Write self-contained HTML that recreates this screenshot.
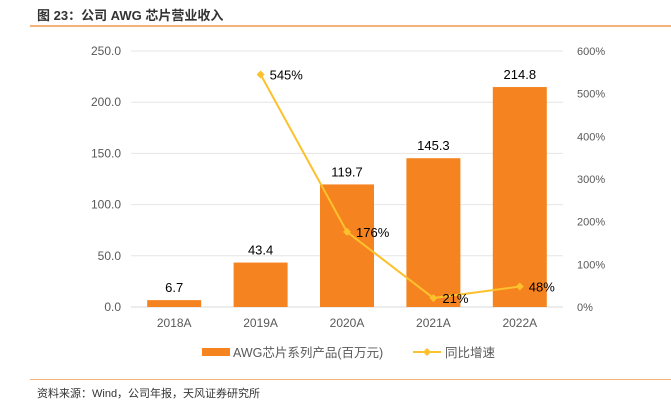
<!DOCTYPE html>
<html><head><meta charset="utf-8"><style>
body{margin:0;width:671px;height:409px;background:#fff;font-family:"Liberation Sans","Noto Sans CJK SC",sans-serif;overflow:hidden;position:relative}
.t{position:absolute;white-space:nowrap}
</style></head><body>
<div class="t" style="left:37px;top:5px;font-size:13px;font-weight:bold;color:#333">图 23：公司 AWG 芯片营业收入</div>
<div style="position:absolute;left:30px;top:25px;width:641px;height:2px;background:#f7b27a"></div>
<svg id="c" width="671" height="409" style="position:absolute;left:0;top:0"></svg>
<div style="position:absolute;left:30px;top:379px;width:641px;height:1px;background:#f7b27a"></div>
<div class="t" style="left:37px;top:385px;font-size:11px;color:#333">资料来源：Wind，公司年报，天风证券研究所</div>
<script>
const categories=["2018A","2019A","2020A","2021A","2022A"];
const revenue=[6.7,43.4,119.7,145.3,214.8];
const growth=[null,545,176,21,48];
const leftTicks=[0,50,100,150,200,250];
const rightTicks=[0,100,200,300,400,500,600];
const NS="http://www.w3.org/2000/svg",svg=document.getElementById('c');
const x0=131,x1=563,yTop=51,yBot=307,bw=54;
const xs=i=>x0+(x1-x0)/categories.length*(i+0.5);
const yl=v=>yBot-(v/250)*(yBot-yTop);
const yr=v=>yBot-(v/600)*(yBot-yTop);
function mk(tag,a,txt){const e=document.createElementNS(NS,tag);for(const k in a)e.setAttribute(k,a[k]);if(txt!=null)e.textContent=txt;svg.appendChild(e);return e;}
leftTicks.forEach(v=>{
 let g=mk('line',{x1:x0,x2:x1,y1:yl(v),y2:yl(v),stroke:v?'#e6e6e6':'#d9d9d9','stroke-width':1});
 
 
 let t=mk('text',{x:121,y:yl(v)+4,'text-anchor':'end','font-size':12,fill:'#595959'},v.toFixed(1));
 
 
});
rightTicks.forEach(v=>{
 let t=mk('text',{x:577,y:yr(v)+4,'font-size':11,fill:'#595959'},v+'%');
 
 
});
categories.forEach((c,i)=>{
 let b=mk('rect',{x:xs(i)-bw/2,y:yl(revenue[i]),width:bw,height:yBot-yl(revenue[i]),fill:'#f5831f'});
 
 
 let l=mk('text',{x:xs(i),y:yl(revenue[i])-8,'text-anchor':'middle','font-size':13,fill:'#000'},revenue[i].toFixed(1));
 
 
 let t=mk('text',{x:xs(i),y:327,'text-anchor':'middle','font-size':12,fill:'#595959'},c);
 
 
});
let pts=[];growth.forEach((g,i)=>{if(g!=null)pts.push([xs(i),yr(g),g]);});
let pl=mk('polyline',{points:pts.map(p=>p[0]+','+p[1]).join(' '),fill:'none',stroke:'#fcc12d','stroke-width':2});


pts.forEach(p=>{
 let d=mk('path',{d:`M${p[0]-4},${p[1]}L${p[0]},${p[1]-4}L${p[0]+4},${p[1]}L${p[0]},${p[1]+4}Z`,fill:'#fcc12d'});
 
 
 let t=mk('text',{x:p[0]+9,y:p[1]+5,'font-size':13,fill:'#000'},p[2]+'%');
 
 
});
let lr=mk('rect',{x:202,y:348,width:28,height:8,fill:'#f5831f'});


let lt=mk('text',{x:233,y:357,'font-size':12.5,fill:'#595959'},'AWG芯片系列产品(百万元)');


let ll=mk('line',{x1:413,x2:441,y1:352,y2:352,stroke:'#fcc12d','stroke-width':2});


let ld=mk('path',{d:'M423,352L427,348L431,352L427,356Z',fill:'#fcc12d'});


let lt2=mk('text',{x:445,y:357,'font-size':12.5,fill:'#595959'},'同比增速');


</script>
</body></html>
